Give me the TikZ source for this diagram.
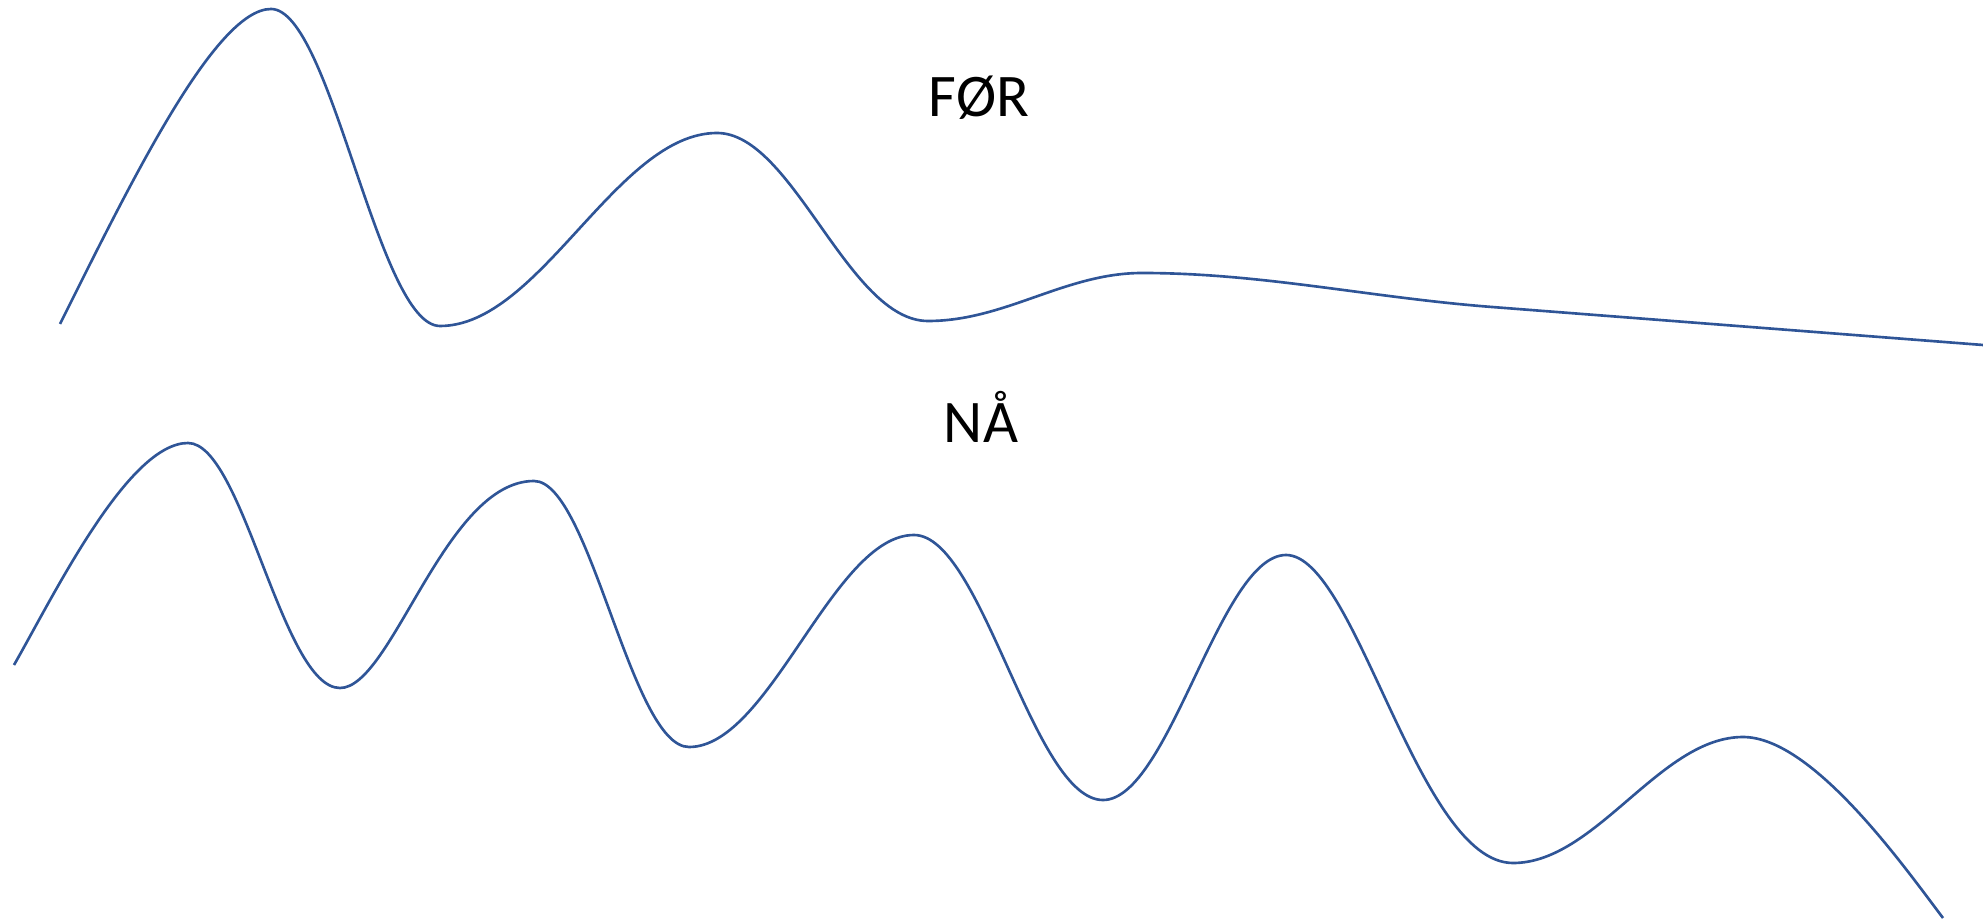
\documentclass[tikz,border=0pt]{standalone}
\usepackage{fontspec}
\setmainfont{Carlito}
\usepackage{tikz}
\usetikzlibrary{positioning}
\definecolor{waveblue}{RGB}{47,85,151}

\begin{document}
\begin{tikzpicture}[x=0.01cm, y=-0.01cm]
    \tikzstyle{wave}=[draw=waveblue, line width=0.75pt, line join=round]
    \tikzstyle{heading}=[font=\fontsize{17.2}{20}\selectfont, text=black, inner sep=0pt, anchor=base]

    \useasboundingbox (0,0) rectangle (1983,919);

    % labels
    \node[heading] (foer) at (979,117) {FØR};
    \node[heading] (naa)  at (981,443) {NÅ};

    % before
    \draw[wave] (60,324)
        .. controls (130,184) and (215,9) .. (271,9)
        .. controls +(60,0) and +(-62,0) .. (440,326)
        .. controls +(100,0) and +(-100,0) .. (717,133)
        .. controls +(76,0) and +(-80,0) .. (928,321)
        .. controls +(77,0) and +(-77,0) .. (1142,273)
        .. controls +(120,0) and +(-122,-9.4) .. (1492,307)
        -- (1983,345);

    % now
    \draw[wave] (14,665)
        .. controls (54,595) and (128,443) .. (188,443)
        .. controls +(55,0) and +(-58,0) .. (340,688)
        .. controls +(52,0) and +(-89,0) .. (534,481)
        .. controls +(56,0) and +(-58,0) .. (689,747)
        .. controls +(81,0) and +(-81,0) .. (914,535)
        .. controls +(68,0) and +(-70,0) .. (1103,800)
        .. controls +(66,0) and +(-66,0) .. (1286,555)
        .. controls +(70,0) and +(-95,0) .. (1513,863)
        .. controls +(83,0) and +(-83,0) .. (1743,737)
        .. controls +(70,0) and (1905,868) .. (1943,918);

\end{tikzpicture}
\end{document}
